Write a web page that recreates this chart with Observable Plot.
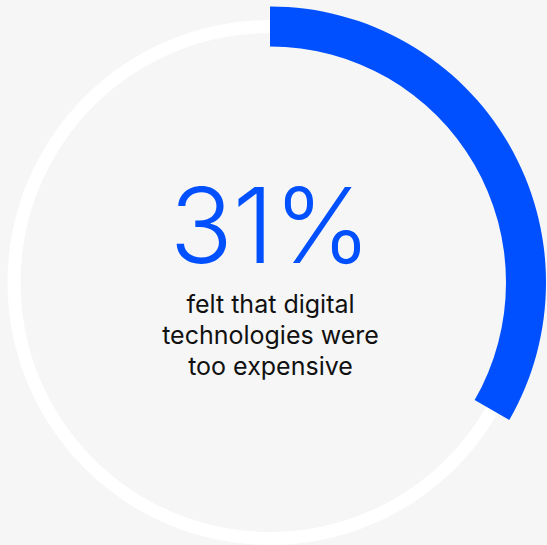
<!DOCTYPE html>
<html>
<head>
<meta charset="utf-8">
<script src="https://cdn.jsdelivr.net/npm/d3@7"></script>
<script src="https://cdn.jsdelivr.net/npm/@observablehq/plot@0.6"></script>
<style>
  html, body { margin: 0; padding: 0; background: #f6f6f6; }
  #chart { width: 547px; height: 545px; }
</style>
</head>
<body>
<div id="chart"></div>
<script>
// ---- data ----
const headlineValue = [31];                 // percent shown in the label
const arcSweepShare = [33.3];               // share of the ring the blue arc covers in the picture (~120°)
const labelLines = ["felt that digital", "technologies were", "too expensive"];

const W = 547, H = 545;
const centre = [{x: 0, y: 0}];

// custom arc mark drawn with Plot's scales
function arcMark(data, {inner, outer, start, end, fill}) {
  return Plot.dot(data, {
    x: "x", y: "y",
    render(index, scales, values, dims) {
      const unit = scales.x(1) - scales.x(0);
      const g = d3.create("svg:g");
      for (const i of index) {
        const cx = values.x[i], cy = values.y[i];
        const path = d3.arc()({
          innerRadius: inner * unit,
          outerRadius: outer * unit,
          startAngle: start(data[i]),
          endAngle: end(data[i])
        });
        g.append("path")
          .attr("d", path)
          .attr("transform", `translate(${cx},${cy})`)
          .attr("fill", fill);
      }
      return g.node();
    }
  });
}

const unitPx = 255;
const plot = Plot.plot({
  width: W,
  height: H,
  marginLeft: 270 - unitPx,
  marginRight: W - 270 - unitPx,
  marginTop: 282.5 - unitPx,
  marginBottom: H - 282.5 - unitPx,
  x: {domain: [-1, 1], axis: null},
  y: {domain: [-1, 1], axis: null},
  style: {background: "#f6f6f6", overflow: "visible"},
  marks: [
    // white background ring
    arcMark(centre, {
      inner: 249.5 / unitPx, outer: 262.5 / unitPx,
      start: () => 0, end: () => 2 * Math.PI, fill: "#ffffff"
    }),
    // blue share arc
    arcMark(centre.map(d => ({...d, v: arcSweepShare[0]})), {
      inner: 236 / unitPx, outer: 276 / unitPx,
      start: () => 0, end: d => d.v / 100 * 2 * Math.PI, fill: "#0050ff"
    }),
    // headline number
    Plot.text(centre, {
      x: "x", y: "y", dy: -20,
      text: () => `${headlineValue[0]}%`,
      fill: "#0050ff",
      fontSize: 104,
      fontWeight: 300,
      fontFamily: "Inter",
      lineAnchor: "bottom",
      textAnchor: "middle"
    }),
    // description lines
    Plot.text(labelLines.map((t, i) => ({x: 0, i, t})), {
      x: "x",
      y: d => -(30 + d.i * 31) / unitPx,
      text: "t",
      fill: "#111111",
      fontSize: 25,
      fontWeight: 400,
      fontFamily: "Inter",
      lineAnchor: "bottom",
      textAnchor: "middle"
    })
  ]
});
document.getElementById("chart").append(plot);
</script>
</body>
</html>
